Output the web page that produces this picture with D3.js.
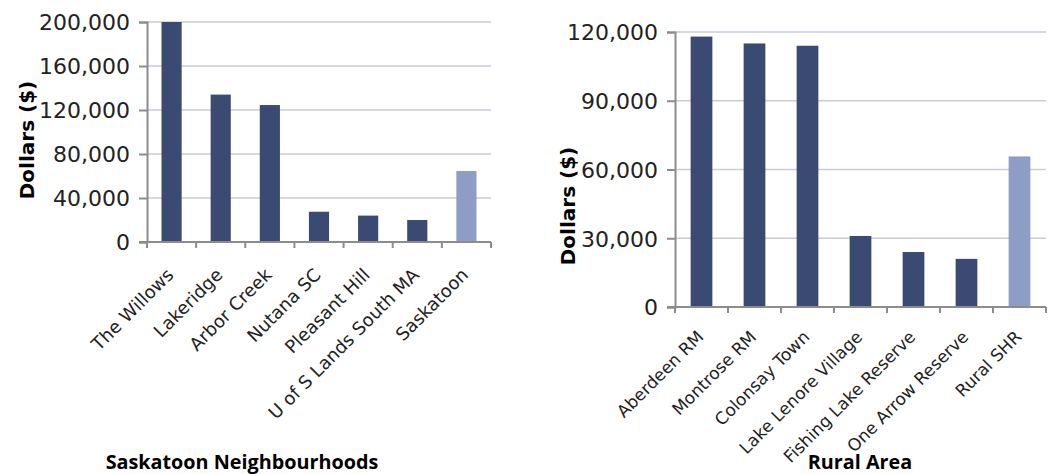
<!DOCTYPE html>
<html>
<head>
<meta charset="utf-8">
<script src="https://cdn.jsdelivr.net/npm/d3@7"></script>
<style>
  body { margin: 0; background: #fff; }
  svg { display: block; }
</style>
</head>
<body>
<svg id="chart" width="1059" height="474"></svg>
<script>
// left chart data
const cityNames = ['The Willows', 'Lakeridge', 'Arbor Creek', 'Nutana SC', 'Pleasant Hill', 'U of S Lands South MA', 'Saskatoon'];
const cityValues = [200000, 134000, 124500, 27500, 24000, 20000, 64500];
const cityTicks = [0, 40000, 80000, 120000, 160000, 200000];

// right chart data
const ruralNames = ['Aberdeen RM', 'Montrose RM', 'Colonsay Town', 'Lake Lenore Village', 'Fishing Lake Reserve', 'One Arrow Reserve', 'Rural SHR'];
const ruralValues = [118000, 115000, 114000, 31000, 24000, 21000, 65700];
const ruralTicks = [0, 30000, 60000, 90000, 120000];

const svg = d3.select('#chart');
const dark = '#3b4a72';
const light = '#8e9cc6';

function drawPanel(opt) {
  const g = svg.append('g');
  const x = d3.scaleBand().domain(opt.names).range([opt.left, opt.right]).paddingInner(0.59).paddingOuter(0.295);
  const y = d3.scaleLinear().domain([0, opt.max]).range([opt.bottom, opt.top]);

  // gridlines
  g.selectAll('.grid')
    .data(opt.ticks.filter(t => t > 0))
    .enter()
    .append('line')
    .attr('x1', opt.left)
    .attr('x2', opt.right)
    .attr('y1', d => y(d))
    .attr('y2', d => y(d))
    .attr('stroke', '#c9cdd9')
    .attr('stroke-width', 1.5);

  // bars
  g.selectAll('rect')
    .data(opt.values)
    .enter()
    .append('rect')
    .attr('x', (d, i) => x(opt.names[i]))
    .attr('y', d => y(d))
    .attr('width', x.bandwidth())
    .attr('height', d => opt.bottom - y(d))
    .attr('fill', (d, i) => i == opt.values.length - 1 ? light : dark);

  // y axis
  const yAxis = g.append('g')
    .attr('transform', 'translate(' + opt.left + ',0)')
    .call(d3.axisLeft(y).tickValues(opt.ticks).tickSize(8).tickPadding(9).tickFormat(d3.format(',')));
  yAxis.select('.domain').attr('stroke', '#8c8c8c').attr('stroke-width', 2);
  yAxis.selectAll('.tick line').attr('stroke', '#8c8c8c').attr('stroke-width', 2);
  yAxis.selectAll('text')
    .attr('font-family', 'DejaVu Sans')
    .attr('font-size', '22px')
    .attr('fill', '#222')
    .attr('dy', '0.36em');

  // x axis line + ticks at band edges
  g.append('line')
    .attr('x1', opt.left - 8).attr('x2', opt.right)
    .attr('y1', opt.bottom).attr('y2', opt.bottom)
    .attr('stroke', '#8c8c8c').attr('stroke-width', 2);
  const step = x.step();
  g.selectAll('.xtick')
    .data(d3.range(opt.names.length + 1))
    .enter()
    .append('line')
    .attr('x1', i => opt.left + i * step)
    .attr('x2', i => opt.left + i * step)
    .attr('y1', opt.bottom)
    .attr('y2', opt.bottom + 6)
    .attr('stroke', '#8c8c8c').attr('stroke-width', 2);

  // x labels rotated
  g.selectAll('.xlabel')
    .data(opt.names)
    .enter()
    .append('text')
    .attr('transform', d => 'translate(' + (x(d) + x.bandwidth() / 2 + 3) + ',' + (opt.bottom + opt.labelDrop) + ') rotate(-45)')
    .attr('text-anchor', 'end')
    .attr('font-family', 'DejaVu Sans')
    .attr('font-size', opt.labelSize)
    .attr('fill', '#222')
    .text(d => d);

  // y title
  g.append('text')
    .attr('transform', 'translate(' + opt.ytitleX + ',' + opt.ytitleY + ') rotate(-90)')
    .attr('text-anchor', 'middle')
    .attr('font-family', 'DejaVu Sans')
    .attr('font-weight', 'bold')
    .attr('font-size', '20px')
    .attr('fill', '#000')
    .text('Dollars ($)');

  // x title
  g.append('text')
    .attr('x', opt.xtitleX)
    .attr('y', 469)
    .attr('text-anchor', 'middle')
    .attr('font-family', 'Open Sans')
    .attr('font-weight', 'bold')
    .attr('font-size', '19.8px')
    .attr('fill', '#000')
    .text(opt.xtitle);
}

drawPanel({
  names: cityNames, values: cityValues, ticks: cityTicks, max: 200000,
  left: 147, right: 491, top: 22, bottom: 242, labelSize: '18px', labelDrop: 34,
  ytitleX: 34, ytitleY: 140, xtitleX: 242, xtitle: 'Saskatoon Neighbourhoods'
});

drawPanel({
  names: ruralNames, values: ruralValues, ticks: ruralTicks, max: 120000,
  left: 675, right: 1046, top: 32, bottom: 307, labelSize: '17px', labelDrop: 31,
  ytitleX: 575, ytitleY: 206, xtitleX: 860, xtitle: 'Rural Area'
});
</script>
</body>
</html>
